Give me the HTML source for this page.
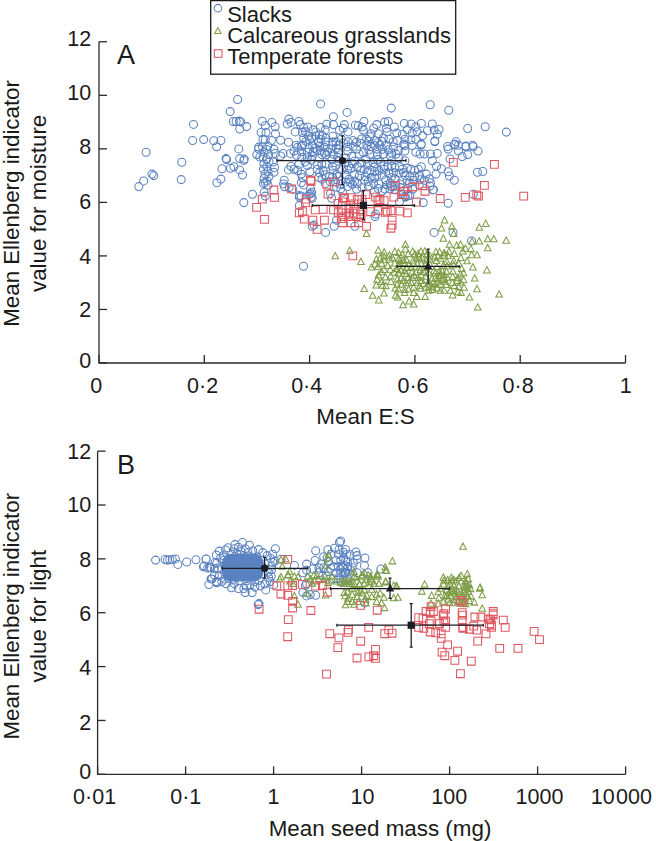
<!DOCTYPE html>
<html><head><meta charset="utf-8"><title>Ellenberg indicator plots</title>
<style>html,body{margin:0;padding:0;background:#fff;}svg{display:block;font-family:"Liberation Sans",sans-serif;}</style>
</head><body>
<svg width="656" height="841" viewBox="0 0 656 841" font-family="Liberation Sans, sans-serif"><path d="M233.6,99.5a4,4 0 1,0 8,0a4,4 0 1,0 -8,0M226.2,111.6a4,4 0 1,0 8,0a4,4 0 1,0 -8,0M189.5,124.4a4,4 0 1,0 8,0a4,4 0 1,0 -8,0M229.3,121.5a4,4 0 1,0 8,0a4,4 0 1,0 -8,0M232.1,121.5a4,4 0 1,0 8,0a4,4 0 1,0 -8,0M235.4,121.1a4,4 0 1,0 8,0a4,4 0 1,0 -8,0M236.7,122.0a4,4 0 1,0 8,0a4,4 0 1,0 -8,0M235.7,129.0a4,4 0 1,0 8,0a4,4 0 1,0 -8,0M242.7,126.6a4,4 0 1,0 8,0a4,4 0 1,0 -8,0M188.6,140.5a4,4 0 1,0 8,0a4,4 0 1,0 -8,0M199.7,139.6a4,4 0 1,0 8,0a4,4 0 1,0 -8,0M209.8,140.7a4,4 0 1,0 8,0a4,4 0 1,0 -8,0M216.9,140.5a4,4 0 1,0 8,0a4,4 0 1,0 -8,0M212.7,146.7a4,4 0 1,0 8,0a4,4 0 1,0 -8,0M234.8,148.9a4,4 0 1,0 8,0a4,4 0 1,0 -8,0M142.1,152.2a4,4 0 1,0 8,0a4,4 0 1,0 -8,0M177.8,162.3a4,4 0 1,0 8,0a4,4 0 1,0 -8,0M222.0,158.6a4,4 0 1,0 8,0a4,4 0 1,0 -8,0M222.6,159.5a4,4 0 1,0 8,0a4,4 0 1,0 -8,0M235.7,158.6a4,4 0 1,0 8,0a4,4 0 1,0 -8,0M240.3,159.1a4,4 0 1,0 8,0a4,4 0 1,0 -8,0M239.8,160.4a4,4 0 1,0 8,0a4,4 0 1,0 -8,0M218.0,168.7a4,4 0 1,0 8,0a4,4 0 1,0 -8,0M226.6,168.3a4,4 0 1,0 8,0a4,4 0 1,0 -8,0M229.9,166.8a4,4 0 1,0 8,0a4,4 0 1,0 -8,0M235.7,169.9a4,4 0 1,0 8,0a4,4 0 1,0 -8,0M238.5,175.0a4,4 0 1,0 8,0a4,4 0 1,0 -8,0M148.0,174.1a4,4 0 1,0 8,0a4,4 0 1,0 -8,0M149.8,175.6a4,4 0 1,0 8,0a4,4 0 1,0 -8,0M139.7,180.9a4,4 0 1,0 8,0a4,4 0 1,0 -8,0M134.8,186.6a4,4 0 1,0 8,0a4,4 0 1,0 -8,0M177.2,179.6a4,4 0 1,0 8,0a4,4 0 1,0 -8,0M216.9,179.1a4,4 0 1,0 8,0a4,4 0 1,0 -8,0M212.9,182.7a4,4 0 1,0 8,0a4,4 0 1,0 -8,0M316.6,103.9a4,4 0 1,0 8,0a4,4 0 1,0 -8,0M258.3,121.2a4,4 0 1,0 8,0a4,4 0 1,0 -8,0M261.3,125.8a4,4 0 1,0 8,0a4,4 0 1,0 -8,0M267.8,122.4a4,4 0 1,0 8,0a4,4 0 1,0 -8,0M271.1,126.8a4,4 0 1,0 8,0a4,4 0 1,0 -8,0M257.1,132.5a4,4 0 1,0 8,0a4,4 0 1,0 -8,0M262.0,132.5a4,4 0 1,0 8,0a4,4 0 1,0 -8,0M271.5,133.7a4,4 0 1,0 8,0a4,4 0 1,0 -8,0M258.9,139.2a4,4 0 1,0 8,0a4,4 0 1,0 -8,0M261.3,139.8a4,4 0 1,0 8,0a4,4 0 1,0 -8,0M267.4,140.4a4,4 0 1,0 8,0a4,4 0 1,0 -8,0M276.6,140.2a4,4 0 1,0 8,0a4,4 0 1,0 -8,0M284.5,142.3a4,4 0 1,0 8,0a4,4 0 1,0 -8,0M254.6,147.1a4,4 0 1,0 8,0a4,4 0 1,0 -8,0M263.8,145.9a4,4 0 1,0 8,0a4,4 0 1,0 -8,0M284.9,119.1a4,4 0 1,0 8,0a4,4 0 1,0 -8,0M283.3,124.0a4,4 0 1,0 8,0a4,4 0 1,0 -8,0M287.0,122.4a4,4 0 1,0 8,0a4,4 0 1,0 -8,0M294.9,121.5a4,4 0 1,0 8,0a4,4 0 1,0 -8,0M296.3,124.6a4,4 0 1,0 8,0a4,4 0 1,0 -8,0M291.2,131.9a4,4 0 1,0 8,0a4,4 0 1,0 -8,0M299.8,127.6a4,4 0 1,0 8,0a4,4 0 1,0 -8,0M298.5,132.5a4,4 0 1,0 8,0a4,4 0 1,0 -8,0M299.8,138.0a4,4 0 1,0 8,0a4,4 0 1,0 -8,0M292.4,145.3a4,4 0 1,0 8,0a4,4 0 1,0 -8,0M297.3,146.3a4,4 0 1,0 8,0a4,4 0 1,0 -8,0M248.5,194.3a4,4 0 1,0 8,0a4,4 0 1,0 -8,0M258.5,147.0a4,4 0 1,0 8,0a4,4 0 1,0 -8,0M263.0,149.5a4,4 0 1,0 8,0a4,4 0 1,0 -8,0M260.0,152.0a4,4 0 1,0 8,0a4,4 0 1,0 -8,0M264.5,154.5a4,4 0 1,0 8,0a4,4 0 1,0 -8,0M259.0,157.0a4,4 0 1,0 8,0a4,4 0 1,0 -8,0M262.5,159.5a4,4 0 1,0 8,0a4,4 0 1,0 -8,0M265.0,162.0a4,4 0 1,0 8,0a4,4 0 1,0 -8,0M260.0,164.0a4,4 0 1,0 8,0a4,4 0 1,0 -8,0M263.0,166.5a4,4 0 1,0 8,0a4,4 0 1,0 -8,0M259.5,169.0a4,4 0 1,0 8,0a4,4 0 1,0 -8,0M264.0,171.5a4,4 0 1,0 8,0a4,4 0 1,0 -8,0M261.0,174.0a4,4 0 1,0 8,0a4,4 0 1,0 -8,0M265.0,176.5a4,4 0 1,0 8,0a4,4 0 1,0 -8,0M260.0,178.5a4,4 0 1,0 8,0a4,4 0 1,0 -8,0M263.0,181.0a4,4 0 1,0 8,0a4,4 0 1,0 -8,0M259.5,183.5a4,4 0 1,0 8,0a4,4 0 1,0 -8,0M264.0,185.0a4,4 0 1,0 8,0a4,4 0 1,0 -8,0M254.6,149.1a4,4 0 1,0 8,0a4,4 0 1,0 -8,0M252.8,154.6a4,4 0 1,0 8,0a4,4 0 1,0 -8,0M255.9,157.0a4,4 0 1,0 8,0a4,4 0 1,0 -8,0M269.9,149.1a4,4 0 1,0 8,0a4,4 0 1,0 -8,0M271.1,153.4a4,4 0 1,0 8,0a4,4 0 1,0 -8,0M269.3,162.0a4,4 0 1,0 8,0a4,4 0 1,0 -8,0M270.5,167.4a4,4 0 1,0 8,0a4,4 0 1,0 -8,0M269.9,172.3a4,4 0 1,0 8,0a4,4 0 1,0 -8,0M276.6,155.9a4,4 0 1,0 8,0a4,4 0 1,0 -8,0M279.0,153.4a4,4 0 1,0 8,0a4,4 0 1,0 -8,0M260.1,192.4a4,4 0 1,0 8,0a4,4 0 1,0 -8,0M261.3,196.1a4,4 0 1,0 8,0a4,4 0 1,0 -8,0M280.2,180.2a4,4 0 1,0 8,0a4,4 0 1,0 -8,0M279.6,183.9a4,4 0 1,0 8,0a4,4 0 1,0 -8,0M285.1,187.6a4,4 0 1,0 8,0a4,4 0 1,0 -8,0M288.8,189.4a4,4 0 1,0 8,0a4,4 0 1,0 -8,0M287.0,166.2a4,4 0 1,0 8,0a4,4 0 1,0 -8,0M284.5,169.9a4,4 0 1,0 8,0a4,4 0 1,0 -8,0M290.0,169.3a4,4 0 1,0 8,0a4,4 0 1,0 -8,0M293.7,170.5a4,4 0 1,0 8,0a4,4 0 1,0 -8,0M286.3,153.4a4,4 0 1,0 8,0a4,4 0 1,0 -8,0M290.0,151.0a4,4 0 1,0 8,0a4,4 0 1,0 -8,0M293.7,147.3a4,4 0 1,0 8,0a4,4 0 1,0 -8,0M297.3,151.6a4,4 0 1,0 8,0a4,4 0 1,0 -8,0M292.4,155.2a4,4 0 1,0 8,0a4,4 0 1,0 -8,0M297.3,174.1a4,4 0 1,0 8,0a4,4 0 1,0 -8,0M298.5,177.8a4,4 0 1,0 8,0a4,4 0 1,0 -8,0M297.3,182.7a4,4 0 1,0 8,0a4,4 0 1,0 -8,0M305.9,171.7a4,4 0 1,0 8,0a4,4 0 1,0 -8,0M306.5,188.8a4,4 0 1,0 8,0a4,4 0 1,0 -8,0M306.5,193.7a4,4 0 1,0 8,0a4,4 0 1,0 -8,0M307.1,197.3a4,4 0 1,0 8,0a4,4 0 1,0 -8,0M313.2,169.3a4,4 0 1,0 8,0a4,4 0 1,0 -8,0M315.6,172.9a4,4 0 1,0 8,0a4,4 0 1,0 -8,0M318.0,179.0a4,4 0 1,0 8,0a4,4 0 1,0 -8,0M313.2,164.4a4,4 0 1,0 8,0a4,4 0 1,0 -8,0M303.4,165.6a4,4 0 1,0 8,0a4,4 0 1,0 -8,0M308.3,155.9a4,4 0 1,0 8,0a4,4 0 1,0 -8,0M303.4,152.2a4,4 0 1,0 8,0a4,4 0 1,0 -8,0M313.2,151.0a4,4 0 1,0 8,0a4,4 0 1,0 -8,0M308.3,144.9a4,4 0 1,0 8,0a4,4 0 1,0 -8,0M315.6,146.1a4,4 0 1,0 8,0a4,4 0 1,0 -8,0M298.5,144.9a4,4 0 1,0 8,0a4,4 0 1,0 -8,0M294.9,164.4a4,4 0 1,0 8,0a4,4 0 1,0 -8,0M301.0,162.0a4,4 0 1,0 8,0a4,4 0 1,0 -8,0M318.0,154.6a4,4 0 1,0 8,0a4,4 0 1,0 -8,0M295.5,195.5a4,4 0 1,0 8,0a4,4 0 1,0 -8,0M343.1,112.4a4,4 0 1,0 8,0a4,4 0 1,0 -8,0M387.3,108.1a4,4 0 1,0 8,0a4,4 0 1,0 -8,0M329.4,116.7a4,4 0 1,0 8,0a4,4 0 1,0 -8,0M322.7,124.3a4,4 0 1,0 8,0a4,4 0 1,0 -8,0M329.4,124.6a4,4 0 1,0 8,0a4,4 0 1,0 -8,0M335.5,130.1a4,4 0 1,0 8,0a4,4 0 1,0 -8,0M340.4,124.6a4,4 0 1,0 8,0a4,4 0 1,0 -8,0M339.2,128.2a4,4 0 1,0 8,0a4,4 0 1,0 -8,0M344.0,131.9a4,4 0 1,0 8,0a4,4 0 1,0 -8,0M318.4,135.6a4,4 0 1,0 8,0a4,4 0 1,0 -8,0M321.5,141.7a4,4 0 1,0 8,0a4,4 0 1,0 -8,0M328.8,136.2a4,4 0 1,0 8,0a4,4 0 1,0 -8,0M331.9,141.7a4,4 0 1,0 8,0a4,4 0 1,0 -8,0M334.9,145.3a4,4 0 1,0 8,0a4,4 0 1,0 -8,0M344.0,141.7a4,4 0 1,0 8,0a4,4 0 1,0 -8,0M348.9,140.4a4,4 0 1,0 8,0a4,4 0 1,0 -8,0M352.6,142.3a4,4 0 1,0 8,0a4,4 0 1,0 -8,0M351.4,125.2a4,4 0 1,0 8,0a4,4 0 1,0 -8,0M354.4,125.8a4,4 0 1,0 8,0a4,4 0 1,0 -8,0M358.1,127.0a4,4 0 1,0 8,0a4,4 0 1,0 -8,0M359.9,121.5a4,4 0 1,0 8,0a4,4 0 1,0 -8,0M359.3,130.1a4,4 0 1,0 8,0a4,4 0 1,0 -8,0M363.0,145.3a4,4 0 1,0 8,0a4,4 0 1,0 -8,0M366.0,136.8a4,4 0 1,0 8,0a4,4 0 1,0 -8,0M367.2,133.7a4,4 0 1,0 8,0a4,4 0 1,0 -8,0M369.7,128.2a4,4 0 1,0 8,0a4,4 0 1,0 -8,0M372.7,124.6a4,4 0 1,0 8,0a4,4 0 1,0 -8,0M374.5,133.7a4,4 0 1,0 8,0a4,4 0 1,0 -8,0M370.9,140.4a4,4 0 1,0 8,0a4,4 0 1,0 -8,0M380.6,122.1a4,4 0 1,0 8,0a4,4 0 1,0 -8,0M384.3,121.5a4,4 0 1,0 8,0a4,4 0 1,0 -8,0M382.5,128.2a4,4 0 1,0 8,0a4,4 0 1,0 -8,0M383.1,131.9a4,4 0 1,0 8,0a4,4 0 1,0 -8,0M390.4,127.0a4,4 0 1,0 8,0a4,4 0 1,0 -8,0M392.8,133.1a4,4 0 1,0 8,0a4,4 0 1,0 -8,0M379.4,138.0a4,4 0 1,0 8,0a4,4 0 1,0 -8,0M384.9,139.2a4,4 0 1,0 8,0a4,4 0 1,0 -8,0M389.2,141.7a4,4 0 1,0 8,0a4,4 0 1,0 -8,0M393.4,140.4a4,4 0 1,0 8,0a4,4 0 1,0 -8,0M375.8,145.3a4,4 0 1,0 8,0a4,4 0 1,0 -8,0M381.9,145.3a4,4 0 1,0 8,0a4,4 0 1,0 -8,0M426.2,104.8a4,4 0 1,0 8,0a4,4 0 1,0 -8,0M444.8,110.3a4,4 0 1,0 8,0a4,4 0 1,0 -8,0M463.7,128.5a4,4 0 1,0 8,0a4,4 0 1,0 -8,0M400.3,123.4a4,4 0 1,0 8,0a4,4 0 1,0 -8,0M407.0,124.0a4,4 0 1,0 8,0a4,4 0 1,0 -8,0M417.3,123.4a4,4 0 1,0 8,0a4,4 0 1,0 -8,0M428.3,124.0a4,4 0 1,0 8,0a4,4 0 1,0 -8,0M435.0,129.5a4,4 0 1,0 8,0a4,4 0 1,0 -8,0M430.1,130.1a4,4 0 1,0 8,0a4,4 0 1,0 -8,0M433.2,134.3a4,4 0 1,0 8,0a4,4 0 1,0 -8,0M423.4,130.7a4,4 0 1,0 8,0a4,4 0 1,0 -8,0M418.6,135.6a4,4 0 1,0 8,0a4,4 0 1,0 -8,0M411.9,127.0a4,4 0 1,0 8,0a4,4 0 1,0 -8,0M413.1,131.9a4,4 0 1,0 8,0a4,4 0 1,0 -8,0M408.2,133.1a4,4 0 1,0 8,0a4,4 0 1,0 -8,0M403.3,129.5a4,4 0 1,0 8,0a4,4 0 1,0 -8,0M398.4,134.3a4,4 0 1,0 8,0a4,4 0 1,0 -8,0M400.9,139.2a4,4 0 1,0 8,0a4,4 0 1,0 -8,0M407.0,139.8a4,4 0 1,0 8,0a4,4 0 1,0 -8,0M411.9,139.2a4,4 0 1,0 8,0a4,4 0 1,0 -8,0M417.3,144.1a4,4 0 1,0 8,0a4,4 0 1,0 -8,0M430.8,141.0a4,4 0 1,0 8,0a4,4 0 1,0 -8,0M399.7,144.1a4,4 0 1,0 8,0a4,4 0 1,0 -8,0M452.1,141.7a4,4 0 1,0 8,0a4,4 0 1,0 -8,0M450.3,144.7a4,4 0 1,0 8,0a4,4 0 1,0 -8,0M443.6,146.5a4,4 0 1,0 8,0a4,4 0 1,0 -8,0M461.9,145.9a4,4 0 1,0 8,0a4,4 0 1,0 -8,0M468.6,145.3a4,4 0 1,0 8,0a4,4 0 1,0 -8,0M454.5,145.3a4,4 0 1,0 8,0a4,4 0 1,0 -8,0M430.8,141.8a4,4 0 1,0 8,0a4,4 0 1,0 -8,0M400.9,145.5a4,4 0 1,0 8,0a4,4 0 1,0 -8,0M400.9,151.0a4,4 0 1,0 8,0a4,4 0 1,0 -8,0M408.2,145.5a4,4 0 1,0 8,0a4,4 0 1,0 -8,0M411.9,152.2a4,4 0 1,0 8,0a4,4 0 1,0 -8,0M417.3,144.9a4,4 0 1,0 8,0a4,4 0 1,0 -8,0M416.1,154.0a4,4 0 1,0 8,0a4,4 0 1,0 -8,0M420.4,154.0a4,4 0 1,0 8,0a4,4 0 1,0 -8,0M426.5,154.0a4,4 0 1,0 8,0a4,4 0 1,0 -8,0M433.2,153.4a4,4 0 1,0 8,0a4,4 0 1,0 -8,0M428.3,160.7a4,4 0 1,0 8,0a4,4 0 1,0 -8,0M432.6,166.2a4,4 0 1,0 8,0a4,4 0 1,0 -8,0M437.5,168.7a4,4 0 1,0 8,0a4,4 0 1,0 -8,0M432.0,174.1a4,4 0 1,0 8,0a4,4 0 1,0 -8,0M444.2,149.1a4,4 0 1,0 8,0a4,4 0 1,0 -8,0M446.0,158.9a4,4 0 1,0 8,0a4,4 0 1,0 -8,0M450.9,144.3a4,4 0 1,0 8,0a4,4 0 1,0 -8,0M454.5,151.0a4,4 0 1,0 8,0a4,4 0 1,0 -8,0M458.2,156.5a4,4 0 1,0 8,0a4,4 0 1,0 -8,0M461.9,146.7a4,4 0 1,0 8,0a4,4 0 1,0 -8,0M463.7,154.6a4,4 0 1,0 8,0a4,4 0 1,0 -8,0M469.2,146.7a4,4 0 1,0 8,0a4,4 0 1,0 -8,0M474.0,151.0a4,4 0 1,0 8,0a4,4 0 1,0 -8,0M444.2,171.7a4,4 0 1,0 8,0a4,4 0 1,0 -8,0M445.4,176.0a4,4 0 1,0 8,0a4,4 0 1,0 -8,0M450.3,180.2a4,4 0 1,0 8,0a4,4 0 1,0 -8,0M473.4,172.3a4,4 0 1,0 8,0a4,4 0 1,0 -8,0M469.2,194.3a4,4 0 1,0 8,0a4,4 0 1,0 -8,0M398.4,169.3a4,4 0 1,0 8,0a4,4 0 1,0 -8,0M403.3,168.0a4,4 0 1,0 8,0a4,4 0 1,0 -8,0M407.0,169.3a4,4 0 1,0 8,0a4,4 0 1,0 -8,0M410.6,170.5a4,4 0 1,0 8,0a4,4 0 1,0 -8,0M414.3,169.3a4,4 0 1,0 8,0a4,4 0 1,0 -8,0M417.3,166.8a4,4 0 1,0 8,0a4,4 0 1,0 -8,0M422.2,174.1a4,4 0 1,0 8,0a4,4 0 1,0 -8,0M425.3,179.0a4,4 0 1,0 8,0a4,4 0 1,0 -8,0M400.9,175.4a4,4 0 1,0 8,0a4,4 0 1,0 -8,0M405.8,176.6a4,4 0 1,0 8,0a4,4 0 1,0 -8,0M410.6,176.6a4,4 0 1,0 8,0a4,4 0 1,0 -8,0M415.5,175.4a4,4 0 1,0 8,0a4,4 0 1,0 -8,0M420.4,180.2a4,4 0 1,0 8,0a4,4 0 1,0 -8,0M426.5,182.7a4,4 0 1,0 8,0a4,4 0 1,0 -8,0M428.9,190.0a4,4 0 1,0 8,0a4,4 0 1,0 -8,0M398.4,180.2a4,4 0 1,0 8,0a4,4 0 1,0 -8,0M403.3,180.2a4,4 0 1,0 8,0a4,4 0 1,0 -8,0M409.4,180.2a4,4 0 1,0 8,0a4,4 0 1,0 -8,0M397.2,193.7a4,4 0 1,0 8,0a4,4 0 1,0 -8,0M400.9,196.1a4,4 0 1,0 8,0a4,4 0 1,0 -8,0M405.8,195.5a4,4 0 1,0 8,0a4,4 0 1,0 -8,0M400.9,160.7a4,4 0 1,0 8,0a4,4 0 1,0 -8,0M481.2,126.8a4,4 0 1,0 8,0a4,4 0 1,0 -8,0M502.3,132.1a4,4 0 1,0 8,0a4,4 0 1,0 -8,0M478.8,171.5a4,4 0 1,0 8,0a4,4 0 1,0 -8,0M299.7,184.9a4,4 0 1,0 8,0a4,4 0 1,0 -8,0M307.6,192.2a4,4 0 1,0 8,0a4,4 0 1,0 -8,0M305.1,194.6a4,4 0 1,0 8,0a4,4 0 1,0 -8,0M308.2,198.3a4,4 0 1,0 8,0a4,4 0 1,0 -8,0M297.2,195.9a4,4 0 1,0 8,0a4,4 0 1,0 -8,0M326.5,193.4a4,4 0 1,0 8,0a4,4 0 1,0 -8,0M332.6,187.3a4,4 0 1,0 8,0a4,4 0 1,0 -8,0M338.7,192.2a4,4 0 1,0 8,0a4,4 0 1,0 -8,0M327.7,198.3a4,4 0 1,0 8,0a4,4 0 1,0 -8,0M332.6,220.2a4,4 0 1,0 8,0a4,4 0 1,0 -8,0M330.1,226.3a4,4 0 1,0 8,0a4,4 0 1,0 -8,0M321.6,232.4a4,4 0 1,0 8,0a4,4 0 1,0 -8,0M310.0,225.1a4,4 0 1,0 8,0a4,4 0 1,0 -8,0M308.2,226.3a4,4 0 1,0 8,0a4,4 0 1,0 -8,0M348.4,184.3a4,4 0 1,0 8,0a4,4 0 1,0 -8,0M353.3,183.7a4,4 0 1,0 8,0a4,4 0 1,0 -8,0M364.3,186.1a4,4 0 1,0 8,0a4,4 0 1,0 -8,0M370.4,192.2a4,4 0 1,0 8,0a4,4 0 1,0 -8,0M371.6,214.1a4,4 0 1,0 8,0a4,4 0 1,0 -8,0M350.9,226.3a4,4 0 1,0 8,0a4,4 0 1,0 -8,0M371.0,216.6a4,4 0 1,0 8,0a4,4 0 1,0 -8,0M403.9,195.9a4,4 0 1,0 8,0a4,4 0 1,0 -8,0M401.5,197.1a4,4 0 1,0 8,0a4,4 0 1,0 -8,0M419.2,202.6a4,4 0 1,0 8,0a4,4 0 1,0 -8,0M444.2,203.2a4,4 0 1,0 8,0a4,4 0 1,0 -8,0M429.5,189.8a4,4 0 1,0 8,0a4,4 0 1,0 -8,0M425.9,186.1a4,4 0 1,0 8,0a4,4 0 1,0 -8,0M380.8,189.1a4,4 0 1,0 8,0a4,4 0 1,0 -8,0M378.3,191.0a4,4 0 1,0 8,0a4,4 0 1,0 -8,0M374.7,183.7a4,4 0 1,0 8,0a4,4 0 1,0 -8,0M430.1,232.4a4,4 0 1,0 8,0a4,4 0 1,0 -8,0M449.0,232.4a4,4 0 1,0 8,0a4,4 0 1,0 -8,0M395.4,202.0a4,4 0 1,0 8,0a4,4 0 1,0 -8,0M239.8,202.6a4,4 0 1,0 8,0a4,4 0 1,0 -8,0M261.1,182.4a4,4 0 1,0 8,0a4,4 0 1,0 -8,0M280.6,186.7a4,4 0 1,0 8,0a4,4 0 1,0 -8,0M295.3,197.1a4,4 0 1,0 8,0a4,4 0 1,0 -8,0M295.3,205.6a4,4 0 1,0 8,0a4,4 0 1,0 -8,0M467.6,240.9a4,4 0 1,0 8,0a4,4 0 1,0 -8,0M299.5,266.2a4,4 0 1,0 8,0a4,4 0 1,0 -8,0M347.2,168.4a4,4 0 1,0 8,0a4,4 0 1,0 -8,0M357.6,163.0a4,4 0 1,0 8,0a4,4 0 1,0 -8,0M387.5,160.9a4,4 0 1,0 8,0a4,4 0 1,0 -8,0M370.6,171.5a4,4 0 1,0 8,0a4,4 0 1,0 -8,0M332.5,174.7a4,4 0 1,0 8,0a4,4 0 1,0 -8,0M394.8,158.1a4,4 0 1,0 8,0a4,4 0 1,0 -8,0M389.4,172.8a4,4 0 1,0 8,0a4,4 0 1,0 -8,0M365.9,154.3a4,4 0 1,0 8,0a4,4 0 1,0 -8,0M322.2,164.0a4,4 0 1,0 8,0a4,4 0 1,0 -8,0M379.8,166.0a4,4 0 1,0 8,0a4,4 0 1,0 -8,0M336.9,180.7a4,4 0 1,0 8,0a4,4 0 1,0 -8,0M329.3,154.4a4,4 0 1,0 8,0a4,4 0 1,0 -8,0M343.8,151.3a4,4 0 1,0 8,0a4,4 0 1,0 -8,0M378.2,174.9a4,4 0 1,0 8,0a4,4 0 1,0 -8,0M373.3,154.5a4,4 0 1,0 8,0a4,4 0 1,0 -8,0M337.9,169.8a4,4 0 1,0 8,0a4,4 0 1,0 -8,0M328.3,166.2a4,4 0 1,0 8,0a4,4 0 1,0 -8,0M356.6,170.4a4,4 0 1,0 8,0a4,4 0 1,0 -8,0M391.1,178.6a4,4 0 1,0 8,0a4,4 0 1,0 -8,0M350.3,174.7a4,4 0 1,0 8,0a4,4 0 1,0 -8,0M370.7,178.3a4,4 0 1,0 8,0a4,4 0 1,0 -8,0M355.1,154.0a4,4 0 1,0 8,0a4,4 0 1,0 -8,0M347.8,156.3a4,4 0 1,0 8,0a4,4 0 1,0 -8,0M341.2,175.1a4,4 0 1,0 8,0a4,4 0 1,0 -8,0M359.5,152.8a4,4 0 1,0 8,0a4,4 0 1,0 -8,0M379.6,154.1a4,4 0 1,0 8,0a4,4 0 1,0 -8,0M389.5,147.0a4,4 0 1,0 8,0a4,4 0 1,0 -8,0M334.6,161.2a4,4 0 1,0 8,0a4,4 0 1,0 -8,0M386.1,155.7a4,4 0 1,0 8,0a4,4 0 1,0 -8,0M365.9,170.2a4,4 0 1,0 8,0a4,4 0 1,0 -8,0M381.9,179.7a4,4 0 1,0 8,0a4,4 0 1,0 -8,0M341.7,157.9a4,4 0 1,0 8,0a4,4 0 1,0 -8,0M369.1,162.4a4,4 0 1,0 8,0a4,4 0 1,0 -8,0M325.7,176.4a4,4 0 1,0 8,0a4,4 0 1,0 -8,0M350.6,160.9a4,4 0 1,0 8,0a4,4 0 1,0 -8,0M367.1,146.5a4,4 0 1,0 8,0a4,4 0 1,0 -8,0M341.3,162.6a4,4 0 1,0 8,0a4,4 0 1,0 -8,0M349.1,146.4a4,4 0 1,0 8,0a4,4 0 1,0 -8,0M364.2,181.4a4,4 0 1,0 8,0a4,4 0 1,0 -8,0M345.1,179.2a4,4 0 1,0 8,0a4,4 0 1,0 -8,0M392.0,154.1a4,4 0 1,0 8,0a4,4 0 1,0 -8,0M357.5,139.0a4,4 0 1,0 8,0a4,4 0 1,0 -8,0M352.6,149.1a4,4 0 1,0 8,0a4,4 0 1,0 -8,0M353.3,166.6a4,4 0 1,0 8,0a4,4 0 1,0 -8,0M337.4,139.0a4,4 0 1,0 8,0a4,4 0 1,0 -8,0M373.5,159.6a4,4 0 1,0 8,0a4,4 0 1,0 -8,0M390.9,167.5a4,4 0 1,0 8,0a4,4 0 1,0 -8,0M370.0,167.1a4,4 0 1,0 8,0a4,4 0 1,0 -8,0M394.3,150.5a4,4 0 1,0 8,0a4,4 0 1,0 -8,0M323.4,151.7a4,4 0 1,0 8,0a4,4 0 1,0 -8,0M372.9,149.1a4,4 0 1,0 8,0a4,4 0 1,0 -8,0M334.3,152.6a4,4 0 1,0 8,0a4,4 0 1,0 -8,0M333.6,157.1a4,4 0 1,0 8,0a4,4 0 1,0 -8,0M378.5,149.2a4,4 0 1,0 8,0a4,4 0 1,0 -8,0M343.5,146.9a4,4 0 1,0 8,0a4,4 0 1,0 -8,0M321.0,174.8a4,4 0 1,0 8,0a4,4 0 1,0 -8,0M344.6,165.9a4,4 0 1,0 8,0a4,4 0 1,0 -8,0M370.3,145.4a4,4 0 1,0 8,0a4,4 0 1,0 -8,0M319.2,170.6a4,4 0 1,0 8,0a4,4 0 1,0 -8,0M361.2,176.7a4,4 0 1,0 8,0a4,4 0 1,0 -8,0M357.2,143.4a4,4 0 1,0 8,0a4,4 0 1,0 -8,0M329.2,170.2a4,4 0 1,0 8,0a4,4 0 1,0 -8,0M317.8,164.3a4,4 0 1,0 8,0a4,4 0 1,0 -8,0M376.6,162.1a4,4 0 1,0 8,0a4,4 0 1,0 -8,0M373.9,142.4a4,4 0 1,0 8,0a4,4 0 1,0 -8,0M387.7,152.9a4,4 0 1,0 8,0a4,4 0 1,0 -8,0M363.6,164.3a4,4 0 1,0 8,0a4,4 0 1,0 -8,0M322.6,154.6a4,4 0 1,0 8,0a4,4 0 1,0 -8,0M328.0,159.8a4,4 0 1,0 8,0a4,4 0 1,0 -8,0M372.8,174.9a4,4 0 1,0 8,0a4,4 0 1,0 -8,0M379.9,169.2a4,4 0 1,0 8,0a4,4 0 1,0 -8,0M326.8,148.9a4,4 0 1,0 8,0a4,4 0 1,0 -8,0M364.9,150.0a4,4 0 1,0 8,0a4,4 0 1,0 -8,0M361.8,159.1a4,4 0 1,0 8,0a4,4 0 1,0 -8,0M339.6,142.9a4,4 0 1,0 8,0a4,4 0 1,0 -8,0M335.0,176.4a4,4 0 1,0 8,0a4,4 0 1,0 -8,0M386.2,183.0a4,4 0 1,0 8,0a4,4 0 1,0 -8,0M321.0,147.6a4,4 0 1,0 8,0a4,4 0 1,0 -8,0M355.4,175.6a4,4 0 1,0 8,0a4,4 0 1,0 -8,0M348.3,163.7a4,4 0 1,0 8,0a4,4 0 1,0 -8,0M384.7,173.4a4,4 0 1,0 8,0a4,4 0 1,0 -8,0M328.9,145.3a4,4 0 1,0 8,0a4,4 0 1,0 -8,0M364.7,141.2a4,4 0 1,0 8,0a4,4 0 1,0 -8,0M314.3,142.1a4,4 0 1,0 8,0a4,4 0 1,0 -8,0M331.6,181.9a4,4 0 1,0 8,0a4,4 0 1,0 -8,0M343.5,169.4a4,4 0 1,0 8,0a4,4 0 1,0 -8,0M331.9,165.9a4,4 0 1,0 8,0a4,4 0 1,0 -8,0M377.9,141.4a4,4 0 1,0 8,0a4,4 0 1,0 -8,0M321.3,183.4a4,4 0 1,0 8,0a4,4 0 1,0 -8,0M384.3,149.8a4,4 0 1,0 8,0a4,4 0 1,0 -8,0M328.7,142.1a4,4 0 1,0 8,0a4,4 0 1,0 -8,0M332.2,148.2a4,4 0 1,0 8,0a4,4 0 1,0 -8,0M320.3,153.2a4,4 0 1,0 8,0a4,4 0 1,0 -8,0M314.6,177.5a4,4 0 1,0 8,0a4,4 0 1,0 -8,0M362.6,138.9a4,4 0 1,0 8,0a4,4 0 1,0 -8,0M309.1,129.9a4,4 0 1,0 8,0a4,4 0 1,0 -8,0M311.6,135.9a4,4 0 1,0 8,0a4,4 0 1,0 -8,0M301.5,131.9a4,4 0 1,0 8,0a4,4 0 1,0 -8,0M305.5,140.0a4,4 0 1,0 8,0a4,4 0 1,0 -8,0M303.7,126.9a4,4 0 1,0 8,0a4,4 0 1,0 -8,0M316.3,127.5a4,4 0 1,0 8,0a4,4 0 1,0 -8,0M304.5,136.0a4,4 0 1,0 8,0a4,4 0 1,0 -8,0M311.9,132.0a4,4 0 1,0 8,0a4,4 0 1,0 -8,0M301.9,141.4a4,4 0 1,0 8,0a4,4 0 1,0 -8,0M317.0,139.2a4,4 0 1,0 8,0a4,4 0 1,0 -8,0M315.4,134.9a4,4 0 1,0 8,0a4,4 0 1,0 -8,0M307.6,138.4a4,4 0 1,0 8,0a4,4 0 1,0 -8,0M408.6,189.3a4,4 0 1,0 8,0a4,4 0 1,0 -8,0M415.3,185.1a4,4 0 1,0 8,0a4,4 0 1,0 -8,0M374.1,188.5a4,4 0 1,0 8,0a4,4 0 1,0 -8,0M395.1,173.0a4,4 0 1,0 8,0a4,4 0 1,0 -8,0M382.9,185.0a4,4 0 1,0 8,0a4,4 0 1,0 -8,0M395.3,166.7a4,4 0 1,0 8,0a4,4 0 1,0 -8,0M403.6,188.7a4,4 0 1,0 8,0a4,4 0 1,0 -8,0M396.3,187.4a4,4 0 1,0 8,0a4,4 0 1,0 -8,0M369.6,183.6a4,4 0 1,0 8,0a4,4 0 1,0 -8,0M405.3,183.3a4,4 0 1,0 8,0a4,4 0 1,0 -8,0M336.8,188.8a4,4 0 1,0 8,0a4,4 0 1,0 -8,0M326.2,181.9a4,4 0 1,0 8,0a4,4 0 1,0 -8,0M390.7,186.3a4,4 0 1,0 8,0a4,4 0 1,0 -8,0M384.1,166.7a4,4 0 1,0 8,0a4,4 0 1,0 -8,0M375.1,170.6a4,4 0 1,0 8,0a4,4 0 1,0 -8,0M358.1,187.7a4,4 0 1,0 8,0a4,4 0 1,0 -8,0M343.6,186.5a4,4 0 1,0 8,0a4,4 0 1,0 -8,0M395.9,183.9a4,4 0 1,0 8,0a4,4 0 1,0 -8,0M399.4,172.5a4,4 0 1,0 8,0a4,4 0 1,0 -8,0M341.6,181.9a4,4 0 1,0 8,0a4,4 0 1,0 -8,0M360.9,180.4a4,4 0 1,0 8,0a4,4 0 1,0 -8,0M352.6,189.2a4,4 0 1,0 8,0a4,4 0 1,0 -8,0M387.8,166.1a4,4 0 1,0 8,0a4,4 0 1,0 -8,0M387.3,177.4a4,4 0 1,0 8,0a4,4 0 1,0 -8,0M363.0,172.3a4,4 0 1,0 8,0a4,4 0 1,0 -8,0M336.2,184.1a4,4 0 1,0 8,0a4,4 0 1,0 -8,0M385.9,188.8a4,4 0 1,0 8,0a4,4 0 1,0 -8,0M328.6,177.1a4,4 0 1,0 8,0a4,4 0 1,0 -8,0M367.2,177.2a4,4 0 1,0 8,0a4,4 0 1,0 -8,0M360.3,169.4a4,4 0 1,0 8,0a4,4 0 1,0 -8,0M415.9,179.7a4,4 0 1,0 8,0a4,4 0 1,0 -8,0M346.4,182.2a4,4 0 1,0 8,0a4,4 0 1,0 -8,0M390.8,189.8a4,4 0 1,0 8,0a4,4 0 1,0 -8,0M350.7,181.1a4,4 0 1,0 8,0a4,4 0 1,0 -8,0M387.3,186.5a4,4 0 1,0 8,0a4,4 0 1,0 -8,0M303.3,157.7a4,4 0 1,0 8,0a4,4 0 1,0 -8,0M309.3,151.6a4,4 0 1,0 8,0a4,4 0 1,0 -8,0M297.8,157.5a4,4 0 1,0 8,0a4,4 0 1,0 -8,0M321.2,129.9a4,4 0 1,0 8,0a4,4 0 1,0 -8,0M321.9,137.9a4,4 0 1,0 8,0a4,4 0 1,0 -8,0M315.5,158.4a4,4 0 1,0 8,0a4,4 0 1,0 -8,0M307.5,160.1a4,4 0 1,0 8,0a4,4 0 1,0 -8,0M311.1,148.0a4,4 0 1,0 8,0a4,4 0 1,0 -8,0M316.4,150.6a4,4 0 1,0 8,0a4,4 0 1,0 -8,0M305.3,148.7a4,4 0 1,0 8,0a4,4 0 1,0 -8,0" fill="none" stroke="#5a82c0" stroke-width="1.05"/>
<path d="M270.0,186.1h7.8v7.8h-7.8zM270.6,193.4h7.8v7.8h-7.8zM287.7,184.9h7.8v7.8h-7.8zM306.6,176.3h7.8v7.8h-7.8zM258.4,195.2h7.8v7.8h-7.8zM302.3,195.2h7.8v7.8h-7.8zM449.4,158.4h7.8v7.8h-7.8zM408.9,183.1h7.8v7.8h-7.8zM418.7,181.8h7.8v7.8h-7.8zM421.1,187.3h7.8v7.8h-7.8zM399.8,187.3h7.8v7.8h-7.8zM461.3,193.4h7.8v7.8h-7.8zM436.3,194.6h7.8v7.8h-7.8zM472.9,191.0h7.8v7.8h-7.8zM490.5,160.5h7.8v7.8h-7.8zM480.5,181.5h7.8v7.8h-7.8zM474.6,192.2h7.8v7.8h-7.8zM519.8,192.2h7.8v7.8h-7.8zM307.1,177.3h7.8v7.8h-7.8zM324.1,190.1h7.8v7.8h-7.8zM301.6,198.7h7.8v7.8h-7.8zM298.5,207.8h7.8v7.8h-7.8zM311.3,206.0h7.8v7.8h-7.8zM319.3,205.4h7.8v7.8h-7.8zM329.6,206.0h7.8v7.8h-7.8zM300.4,215.1h7.8v7.8h-7.8zM308.9,216.3h7.8v7.8h-7.8zM320.5,216.3h7.8v7.8h-7.8zM313.2,225.5h7.8v7.8h-7.8zM340.6,193.8h7.8v7.8h-7.8zM339.4,194.4h7.8v7.8h-7.8zM347.3,193.8h7.8v7.8h-7.8zM353.4,195.6h7.8v7.8h-7.8zM338.8,205.4h7.8v7.8h-7.8zM344.9,204.1h7.8v7.8h-7.8zM351.0,205.4h7.8v7.8h-7.8zM338.8,212.7h7.8v7.8h-7.8zM344.9,212.7h7.8v7.8h-7.8zM352.2,212.7h7.8v7.8h-7.8zM338.8,218.8h7.8v7.8h-7.8zM347.3,218.8h7.8v7.8h-7.8zM354.6,218.8h7.8v7.8h-7.8zM342.4,209.0h7.8v7.8h-7.8zM362.0,190.7h7.8v7.8h-7.8zM366.8,207.8h7.8v7.8h-7.8zM362.6,222.4h7.8v7.8h-7.8zM374.1,196.8h7.8v7.8h-7.8zM374.1,206.6h7.8v7.8h-7.8zM371.7,193.2h7.8v7.8h-7.8zM330.2,177.9h7.8v7.8h-7.8zM322.9,180.4h7.8v7.8h-7.8zM391.8,181.6h7.8v7.8h-7.8zM399.8,187.7h7.8v7.8h-7.8zM408.9,182.8h7.8v7.8h-7.8zM390.0,193.2h7.8v7.8h-7.8zM376.0,195.6h7.8v7.8h-7.8zM380.2,196.8h7.8v7.8h-7.8zM412.6,198.1h7.8v7.8h-7.8zM383.3,207.2h7.8v7.8h-7.8zM387.0,206.6h7.8v7.8h-7.8zM396.1,207.2h7.8v7.8h-7.8zM403.4,209.0h7.8v7.8h-7.8zM388.2,216.3h7.8v7.8h-7.8zM388.2,221.2h7.8v7.8h-7.8zM387.0,224.3h7.8v7.8h-7.8zM381.5,208.4h7.8v7.8h-7.8zM399.1,190.7h7.8v7.8h-7.8zM252.7,203.5h7.8v7.8h-7.8zM260.6,215.4h7.8v7.8h-7.8zM295.4,209.0h7.8v7.8h-7.8zM348.9,252.0h7.8v7.8h-7.8zM357.2,207.1h7.8v7.8h-7.8zM349.8,199.9h7.8v7.8h-7.8zM358.1,195.5h7.8v7.8h-7.8zM354.7,200.0h7.8v7.8h-7.8zM349.2,209.3h7.8v7.8h-7.8zM345.7,209.3h7.8v7.8h-7.8zM357.2,213.4h7.8v7.8h-7.8zM334.2,199.4h7.8v7.8h-7.8zM356.7,210.3h7.8v7.8h-7.8zM337.4,214.6h7.8v7.8h-7.8zM338.5,197.9h7.8v7.8h-7.8zM334.4,208.8h7.8v7.8h-7.8z" fill="none" stroke="#de5862" stroke-width="1.05"/>
<path d="M366.5,230.2l3.3,6.3h-6.6zM444.5,216.7l3.3,6.3h-6.6zM441.5,224.7l3.3,6.3h-6.6zM451.8,222.8l3.3,6.3h-6.6zM453.7,230.2l3.3,6.3h-6.6zM443.3,235.0l3.3,6.3h-6.6zM335.2,252.4l3.3,6.3h-6.6zM349.7,247.1l3.3,6.3h-6.6zM360.9,258.2l3.3,6.3h-6.6zM371.5,263.8l3.3,6.3h-6.6zM374.9,260.8l3.3,6.3h-6.6zM380.2,254.7l3.3,6.3h-6.6zM377.9,263.1l3.3,6.3h-6.6zM381.7,260.0l3.3,6.3h-6.6zM384.0,266.1l3.3,6.3h-6.6zM387.8,262.3l3.3,6.3h-6.6zM389.4,251.7l3.3,6.3h-6.6zM392.4,253.9l3.3,6.3h-6.6zM385.5,273.8l3.3,6.3h-6.6zM381.7,278.3l3.3,6.3h-6.6zM390.9,278.3l3.3,6.3h-6.6zM364.2,285.2l3.3,6.3h-6.6zM372.6,292.0l3.3,6.3h-6.6zM378.7,296.6l3.3,6.3h-6.6zM384.0,289.8l3.3,6.3h-6.6zM395.5,292.0l3.3,6.3h-6.6zM397.7,293.6l3.3,6.3h-6.6zM405.4,241.0l3.3,6.3h-6.6zM405.4,245.6l3.3,6.3h-6.6zM402.3,250.9l3.3,6.3h-6.6zM479.3,223.9l3.3,6.3h-6.6zM485.7,220.1l3.3,6.3h-6.6zM449.5,241.0l3.3,6.3h-6.6zM456.7,241.9l3.3,6.3h-6.6zM460.7,241.0l3.3,6.3h-6.6zM465.5,245.0l3.3,6.3h-6.6zM470.9,245.3l3.3,6.3h-6.6zM479.3,237.7l3.3,6.3h-6.6zM487.7,235.4l3.3,6.3h-6.6zM493.8,235.4l3.3,6.3h-6.6zM487.7,244.5l3.3,6.3h-6.6zM471.6,251.4l3.3,6.3h-6.6zM477.0,251.4l3.3,6.3h-6.6zM467.1,257.5l3.3,6.3h-6.6zM472.9,263.6l3.3,6.3h-6.6zM486.9,266.6l3.3,6.3h-6.6zM461.7,265.1l3.3,6.3h-6.6zM474.7,274.8l3.3,6.3h-6.6zM452.6,273.3l3.3,6.3h-6.6zM457.2,277.1l3.3,6.3h-6.6zM444.2,274.8l3.3,6.3h-6.6zM458.7,283.2l3.3,6.3h-6.6zM464.0,283.9l3.3,6.3h-6.6zM450.3,287.0l3.3,6.3h-6.6zM444.2,287.0l3.3,6.3h-6.6zM457.9,288.5l3.3,6.3h-6.6zM461.0,289.3l3.3,6.3h-6.6zM452.6,291.6l3.3,6.3h-6.6zM469.4,293.8l3.3,6.3h-6.6zM477.0,285.5l3.3,6.3h-6.6zM477.7,303.8l3.3,6.3h-6.6zM499.1,290.8l3.3,6.3h-6.6zM425.2,293.1l3.3,6.3h-6.6zM429.0,287.0l3.3,6.3h-6.6zM437.3,284.7l3.3,6.3h-6.6zM425.9,283.9l3.3,6.3h-6.6zM440.4,280.9l3.3,6.3h-6.6zM441.9,276.3l3.3,6.3h-6.6zM435.1,274.8l3.3,6.3h-6.6zM432.8,279.4l3.3,6.3h-6.6zM416.8,293.1l3.3,6.3h-6.6zM413.7,300.7l3.3,6.3h-6.6zM409.1,297.7l3.3,6.3h-6.6zM403.0,301.5l3.3,6.3h-6.6zM404.6,289.3l3.3,6.3h-6.6zM413.7,289.3l3.3,6.3h-6.6zM419.8,282.4l3.3,6.3h-6.6zM506.2,236.9l3.3,6.3h-6.6zM472.1,237.9l3.3,6.3h-6.6zM457.4,274.5l3.3,6.3h-6.6zM440.7,255.0l3.3,6.3h-6.6zM421.4,260.2l3.3,6.3h-6.6zM442.4,267.4l3.3,6.3h-6.6zM421.0,271.7l3.3,6.3h-6.6zM406.2,279.4l3.3,6.3h-6.6zM429.6,256.0l3.3,6.3h-6.6zM414.9,250.6l3.3,6.3h-6.6zM400.9,266.5l3.3,6.3h-6.6zM444.2,249.4l3.3,6.3h-6.6zM428.7,269.5l3.3,6.3h-6.6zM401.3,274.4l3.3,6.3h-6.6zM397.1,281.0l3.3,6.3h-6.6zM435.9,248.3l3.3,6.3h-6.6zM447.0,262.4l3.3,6.3h-6.6zM411.2,263.3l3.3,6.3h-6.6zM427.2,250.5l3.3,6.3h-6.6zM412.1,274.0l3.3,6.3h-6.6zM416.4,268.6l3.3,6.3h-6.6zM422.1,254.5l3.3,6.3h-6.6zM436.9,263.3l3.3,6.3h-6.6zM406.5,270.3l3.3,6.3h-6.6zM408.3,250.2l3.3,6.3h-6.6zM403.5,259.2l3.3,6.3h-6.6zM420.9,247.9l3.3,6.3h-6.6zM408.7,285.7l3.3,6.3h-6.6zM425.5,272.9l3.3,6.3h-6.6zM417.5,279.0l3.3,6.3h-6.6zM413.5,283.9l3.3,6.3h-6.6zM394.8,259.8l3.3,6.3h-6.6zM411.6,279.3l3.3,6.3h-6.6zM424.7,247.8l3.3,6.3h-6.6zM435.3,269.4l3.3,6.3h-6.6zM434.7,253.6l3.3,6.3h-6.6zM401.7,280.9l3.3,6.3h-6.6zM440.8,270.7l3.3,6.3h-6.6zM406.8,256.9l3.3,6.3h-6.6zM412.0,268.9l3.3,6.3h-6.6zM398.3,285.8l3.3,6.3h-6.6zM440.5,286.9l3.3,6.3h-6.6zM417.2,260.2l3.3,6.3h-6.6zM415.6,263.7l3.3,6.3h-6.6zM398.5,262.6l3.3,6.3h-6.6zM427.3,262.8l3.3,6.3h-6.6zM419.0,252.8l3.3,6.3h-6.6zM394.7,248.1l3.3,6.3h-6.6zM443.2,262.1l3.3,6.3h-6.6zM438.9,268.8l3.3,6.3h-6.6zM394.2,268.8l3.3,6.3h-6.6zM446.9,258.3l3.3,6.3h-6.6zM398.6,249.2l3.3,6.3h-6.6zM398.9,254.9l3.3,6.3h-6.6zM398.1,269.6l3.3,6.3h-6.6zM406.9,264.1l3.3,6.3h-6.6zM436.5,257.2l3.3,6.3h-6.6zM445.9,281.2l3.3,6.3h-6.6zM413.1,256.8l3.3,6.3h-6.6zM432.4,283.8l3.3,6.3h-6.6zM416.2,254.8l3.3,6.3h-6.6zM397.4,275.8l3.3,6.3h-6.6zM425.6,256.8l3.3,6.3h-6.6zM423.7,268.2l3.3,6.3h-6.6zM420.6,277.2l3.3,6.3h-6.6zM432.1,275.2l3.3,6.3h-6.6zM444.4,251.9l3.3,6.3h-6.6zM407.7,274.4l3.3,6.3h-6.6zM395.3,284.7l3.3,6.3h-6.6zM446.5,268.2l3.3,6.3h-6.6zM400.0,257.2l3.3,6.3h-6.6zM414.3,272.0l3.3,6.3h-6.6zM396.9,265.1l3.3,6.3h-6.6zM420.7,285.0l3.3,6.3h-6.6zM437.9,278.0l3.3,6.3h-6.6zM403.2,256.2l3.3,6.3h-6.6zM435.8,280.5l3.3,6.3h-6.6zM417.7,274.2l3.3,6.3h-6.6zM432.2,286.2l3.3,6.3h-6.6zM429.4,259.9l3.3,6.3h-6.6zM439.6,248.4l3.3,6.3h-6.6zM420.4,266.5l3.3,6.3h-6.6zM429.8,251.9l3.3,6.3h-6.6zM418.2,250.3l3.3,6.3h-6.6zM428.9,283.4l3.3,6.3h-6.6zM403.3,277.2l3.3,6.3h-6.6zM428.7,277.9l3.3,6.3h-6.6zM447.9,252.1l3.3,6.3h-6.6zM433.9,267.2l3.3,6.3h-6.6zM400.1,260.3l3.3,6.3h-6.6zM445.3,278.0l3.3,6.3h-6.6zM408.5,260.8l3.3,6.3h-6.6zM423.7,264.2l3.3,6.3h-6.6zM425.2,261.0l3.3,6.3h-6.6zM438.0,252.7l3.3,6.3h-6.6zM444.1,271.2l3.3,6.3h-6.6zM404.6,286.3l3.3,6.3h-6.6zM423.4,280.1l3.3,6.3h-6.6zM438.9,272.1l3.3,6.3h-6.6zM408.7,279.5l3.3,6.3h-6.6zM404.6,267.5l3.3,6.3h-6.6zM412.7,247.9l3.3,6.3h-6.6zM447.2,274.0l3.3,6.3h-6.6zM454.3,250.1l3.3,6.3h-6.6zM463.6,276.5l3.3,6.3h-6.6zM458.9,260.0l3.3,6.3h-6.6zM460.9,254.2l3.3,6.3h-6.6zM453.0,267.7l3.3,6.3h-6.6zM462.7,247.6l3.3,6.3h-6.6zM460.6,270.8l3.3,6.3h-6.6zM453.7,261.5l3.3,6.3h-6.6zM448.9,248.1l3.3,6.3h-6.6zM452.3,279.2l3.3,6.3h-6.6zM463.4,269.5l3.3,6.3h-6.6zM454.4,282.3l3.3,6.3h-6.6zM460.7,278.8l3.3,6.3h-6.6zM453.8,257.5l3.3,6.3h-6.6zM384.2,248.7l3.3,6.3h-6.6zM376.2,281.7l3.3,6.3h-6.6zM377.2,275.9l3.3,6.3h-6.6zM383.9,256.5l3.3,6.3h-6.6zM390.6,272.7l3.3,6.3h-6.6zM385.8,282.4l3.3,6.3h-6.6zM390.2,265.9l3.3,6.3h-6.6zM378.5,271.6l3.3,6.3h-6.6zM378.3,246.8l3.3,6.3h-6.6zM376.5,255.7l3.3,6.3h-6.6zM384.0,252.7l3.3,6.3h-6.6zM382.7,282.0l3.3,6.3h-6.6zM381.5,268.5l3.3,6.3h-6.6zM389.4,255.6l3.3,6.3h-6.6z" fill="none" stroke="#7f9e48" stroke-width="1.05"/>
<rect x="222" y="553.5" width="41.5" height="28" rx="10" ry="9" fill="#5a82c0"/>
<path d="M151.6,560.1a4,4 0 1,0 8,0a4,4 0 1,0 -8,0M161.0,559.5a4,4 0 1,0 8,0a4,4 0 1,0 -8,0M163.4,560.1a4,4 0 1,0 8,0a4,4 0 1,0 -8,0M165.9,559.8a4,4 0 1,0 8,0a4,4 0 1,0 -8,0M168.3,559.5a4,4 0 1,0 8,0a4,4 0 1,0 -8,0M171.4,558.9a4,4 0 1,0 8,0a4,4 0 1,0 -8,0M173.8,564.4a4,4 0 1,0 8,0a4,4 0 1,0 -8,0M182.7,562.0a4,4 0 1,0 8,0a4,4 0 1,0 -8,0M191.9,559.8a4,4 0 1,0 8,0a4,4 0 1,0 -8,0M201.9,558.9a4,4 0 1,0 8,0a4,4 0 1,0 -8,0M199.4,566.8a4,4 0 1,0 8,0a4,4 0 1,0 -8,0M203.7,568.0a4,4 0 1,0 8,0a4,4 0 1,0 -8,0M206.7,567.4a4,4 0 1,0 8,0a4,4 0 1,0 -8,0M210.4,568.7a4,4 0 1,0 8,0a4,4 0 1,0 -8,0M212.8,563.2a4,4 0 1,0 8,0a4,4 0 1,0 -8,0M208.0,579.0a4,4 0 1,0 8,0a4,4 0 1,0 -8,0M204.9,584.5a4,4 0 1,0 8,0a4,4 0 1,0 -8,0M212.8,582.7a4,4 0 1,0 8,0a4,4 0 1,0 -8,0M231.0,544.6a4,4 0 1,0 8,0a4,4 0 1,0 -8,0M238.5,542.5a4,4 0 1,0 8,0a4,4 0 1,0 -8,0M245.4,545.3a4,4 0 1,0 8,0a4,4 0 1,0 -8,0M248.8,550.8a4,4 0 1,0 8,0a4,4 0 1,0 -8,0M230.3,548.7a4,4 0 1,0 8,0a4,4 0 1,0 -8,0M234.4,547.3a4,4 0 1,0 8,0a4,4 0 1,0 -8,0M241.3,548.7a4,4 0 1,0 8,0a4,4 0 1,0 -8,0M237.2,551.5a4,4 0 1,0 8,0a4,4 0 1,0 -8,0M244.0,552.8a4,4 0 1,0 8,0a4,4 0 1,0 -8,0M271.4,548.7a4,4 0 1,0 8,0a4,4 0 1,0 -8,0M268.7,554.2a4,4 0 1,0 8,0a4,4 0 1,0 -8,0M263.2,555.6a4,4 0 1,0 8,0a4,4 0 1,0 -8,0M270.8,561.1a4,4 0 1,0 8,0a4,4 0 1,0 -8,0M268.7,562.4a4,4 0 1,0 8,0a4,4 0 1,0 -8,0M202.2,559.0a4,4 0 1,0 8,0a4,4 0 1,0 -8,0M200.1,565.9a4,4 0 1,0 8,0a4,4 0 1,0 -8,0M205.6,567.2a4,4 0 1,0 8,0a4,4 0 1,0 -8,0M211.1,562.4a4,4 0 1,0 8,0a4,4 0 1,0 -8,0M213.8,567.9a4,4 0 1,0 8,0a4,4 0 1,0 -8,0M216.6,558.3a4,4 0 1,0 8,0a4,4 0 1,0 -8,0M219.3,555.6a4,4 0 1,0 8,0a4,4 0 1,0 -8,0M207.0,578.9a4,4 0 1,0 8,0a4,4 0 1,0 -8,0M204.9,584.4a4,4 0 1,0 8,0a4,4 0 1,0 -8,0M212.5,581.6a4,4 0 1,0 8,0a4,4 0 1,0 -8,0M217.9,581.6a4,4 0 1,0 8,0a4,4 0 1,0 -8,0M222.1,583.7a4,4 0 1,0 8,0a4,4 0 1,0 -8,0M227.6,587.8a4,4 0 1,0 8,0a4,4 0 1,0 -8,0M234.4,588.5a4,4 0 1,0 8,0a4,4 0 1,0 -8,0M241.3,592.6a4,4 0 1,0 8,0a4,4 0 1,0 -8,0M248.1,592.6a4,4 0 1,0 8,0a4,4 0 1,0 -8,0M239.9,588.5a4,4 0 1,0 8,0a4,4 0 1,0 -8,0M250.9,587.1a4,4 0 1,0 8,0a4,4 0 1,0 -8,0M256.4,585.8a4,4 0 1,0 8,0a4,4 0 1,0 -8,0M261.8,589.9a4,4 0 1,0 8,0a4,4 0 1,0 -8,0M264.6,577.5a4,4 0 1,0 8,0a4,4 0 1,0 -8,0M266.0,581.6a4,4 0 1,0 8,0a4,4 0 1,0 -8,0M255.0,580.3a4,4 0 1,0 8,0a4,4 0 1,0 -8,0M250.9,581.6a4,4 0 1,0 8,0a4,4 0 1,0 -8,0M255.0,603.6a4,4 0 1,0 8,0a4,4 0 1,0 -8,0M277.0,559.3a4,4 0 1,0 8,0a4,4 0 1,0 -8,0M290.4,565.4a4,4 0 1,0 8,0a4,4 0 1,0 -8,0M302.6,564.1a4,4 0 1,0 8,0a4,4 0 1,0 -8,0M311.1,560.5a4,4 0 1,0 8,0a4,4 0 1,0 -8,0M311.7,550.7a4,4 0 1,0 8,0a4,4 0 1,0 -8,0M302.6,570.2a4,4 0 1,0 8,0a4,4 0 1,0 -8,0M298.9,572.7a4,4 0 1,0 8,0a4,4 0 1,0 -8,0M308.7,569.0a4,4 0 1,0 8,0a4,4 0 1,0 -8,0M314.8,572.7a4,4 0 1,0 8,0a4,4 0 1,0 -8,0M267.2,576.3a4,4 0 1,0 8,0a4,4 0 1,0 -8,0M269.7,584.9a4,4 0 1,0 8,0a4,4 0 1,0 -8,0M302.6,583.7a4,4 0 1,0 8,0a4,4 0 1,0 -8,0M319.7,556.8a4,4 0 1,0 8,0a4,4 0 1,0 -8,0M324.5,561.7a4,4 0 1,0 8,0a4,4 0 1,0 -8,0M319.7,567.8a4,4 0 1,0 8,0a4,4 0 1,0 -8,0M330.6,548.3a4,4 0 1,0 8,0a4,4 0 1,0 -8,0M335.5,542.2a4,4 0 1,0 8,0a4,4 0 1,0 -8,0M336.7,541.0a4,4 0 1,0 8,0a4,4 0 1,0 -8,0M334.3,554.4a4,4 0 1,0 8,0a4,4 0 1,0 -8,0M339.2,552.0a4,4 0 1,0 8,0a4,4 0 1,0 -8,0M342.8,554.4a4,4 0 1,0 8,0a4,4 0 1,0 -8,0M331.9,560.5a4,4 0 1,0 8,0a4,4 0 1,0 -8,0M336.7,560.5a4,4 0 1,0 8,0a4,4 0 1,0 -8,0M341.6,560.5a4,4 0 1,0 8,0a4,4 0 1,0 -8,0M329.4,566.6a4,4 0 1,0 8,0a4,4 0 1,0 -8,0M334.3,566.6a4,4 0 1,0 8,0a4,4 0 1,0 -8,0M339.2,567.8a4,4 0 1,0 8,0a4,4 0 1,0 -8,0M344.0,566.6a4,4 0 1,0 8,0a4,4 0 1,0 -8,0M331.9,572.7a4,4 0 1,0 8,0a4,4 0 1,0 -8,0M336.7,572.7a4,4 0 1,0 8,0a4,4 0 1,0 -8,0M341.6,572.7a4,4 0 1,0 8,0a4,4 0 1,0 -8,0M324.5,571.5a4,4 0 1,0 8,0a4,4 0 1,0 -8,0M322.1,576.3a4,4 0 1,0 8,0a4,4 0 1,0 -8,0M329.4,578.8a4,4 0 1,0 8,0a4,4 0 1,0 -8,0M334.3,578.8a4,4 0 1,0 8,0a4,4 0 1,0 -8,0M339.2,578.8a4,4 0 1,0 8,0a4,4 0 1,0 -8,0M344.0,578.8a4,4 0 1,0 8,0a4,4 0 1,0 -8,0M345.8,554.4a4,4 0 1,0 8,0a4,4 0 1,0 -8,0M351.9,552.0a4,4 0 1,0 8,0a4,4 0 1,0 -8,0M353.1,555.6a4,4 0 1,0 8,0a4,4 0 1,0 -8,0M353.1,559.3a4,4 0 1,0 8,0a4,4 0 1,0 -8,0M361.0,558.0a4,4 0 1,0 8,0a4,4 0 1,0 -8,0M360.4,565.4a4,4 0 1,0 8,0a4,4 0 1,0 -8,0M349.4,562.9a4,4 0 1,0 8,0a4,4 0 1,0 -8,0M343.3,561.7a4,4 0 1,0 8,0a4,4 0 1,0 -8,0M339.7,558.0a4,4 0 1,0 8,0a4,4 0 1,0 -8,0M338.4,566.6a4,4 0 1,0 8,0a4,4 0 1,0 -8,0M343.3,569.0a4,4 0 1,0 8,0a4,4 0 1,0 -8,0M348.2,567.8a4,4 0 1,0 8,0a4,4 0 1,0 -8,0M340.9,572.7a4,4 0 1,0 8,0a4,4 0 1,0 -8,0M345.8,573.3a4,4 0 1,0 8,0a4,4 0 1,0 -8,0M353.1,572.7a4,4 0 1,0 8,0a4,4 0 1,0 -8,0M376.9,569.0a4,4 0 1,0 8,0a4,4 0 1,0 -8,0M364.0,572.7a4,4 0 1,0 8,0a4,4 0 1,0 -8,0M302.6,595.9a4,4 0 1,0 8,0a4,4 0 1,0 -8,0M306.2,594.6a4,4 0 1,0 8,0a4,4 0 1,0 -8,0M311.7,595.2a4,4 0 1,0 8,0a4,4 0 1,0 -8,0M298.9,592.2a4,4 0 1,0 8,0a4,4 0 1,0 -8,0M301.4,585.5a4,4 0 1,0 8,0a4,4 0 1,0 -8,0M343.3,577.3a4,4 0 1,0 8,0a4,4 0 1,0 -8,0M337.2,582.2a4,4 0 1,0 8,0a4,4 0 1,0 -8,0M360.4,602.9a4,4 0 1,0 8,0a4,4 0 1,0 -8,0M254.2,604.6a4,4 0 1,0 8,0a4,4 0 1,0 -8,0M239.5,575.2a4,4 0 1,0 8,0a4,4 0 1,0 -8,0M254.2,568.9a4,4 0 1,0 8,0a4,4 0 1,0 -8,0M229.3,579.2a4,4 0 1,0 8,0a4,4 0 1,0 -8,0M230.9,558.9a4,4 0 1,0 8,0a4,4 0 1,0 -8,0M231.8,565.8a4,4 0 1,0 8,0a4,4 0 1,0 -8,0M242.7,580.8a4,4 0 1,0 8,0a4,4 0 1,0 -8,0M238.8,569.8a4,4 0 1,0 8,0a4,4 0 1,0 -8,0M250.6,561.5a4,4 0 1,0 8,0a4,4 0 1,0 -8,0M215.3,551.1a4,4 0 1,0 8,0a4,4 0 1,0 -8,0M245.9,584.7a4,4 0 1,0 8,0a4,4 0 1,0 -8,0M234.4,574.6a4,4 0 1,0 8,0a4,4 0 1,0 -8,0M259.0,573.8a4,4 0 1,0 8,0a4,4 0 1,0 -8,0M220.7,572.6a4,4 0 1,0 8,0a4,4 0 1,0 -8,0M224.1,559.9a4,4 0 1,0 8,0a4,4 0 1,0 -8,0M261.0,563.9a4,4 0 1,0 8,0a4,4 0 1,0 -8,0M243.3,563.4a4,4 0 1,0 8,0a4,4 0 1,0 -8,0M254.6,549.6a4,4 0 1,0 8,0a4,4 0 1,0 -8,0M252.8,556.7a4,4 0 1,0 8,0a4,4 0 1,0 -8,0M248.7,572.0a4,4 0 1,0 8,0a4,4 0 1,0 -8,0M227.7,554.1a4,4 0 1,0 8,0a4,4 0 1,0 -8,0M224.7,578.7a4,4 0 1,0 8,0a4,4 0 1,0 -8,0M212.3,555.1a4,4 0 1,0 8,0a4,4 0 1,0 -8,0M230.3,583.6a4,4 0 1,0 8,0a4,4 0 1,0 -8,0M267.6,569.7a4,4 0 1,0 8,0a4,4 0 1,0 -8,0M238.7,562.3a4,4 0 1,0 8,0a4,4 0 1,0 -8,0M225.7,569.4a4,4 0 1,0 8,0a4,4 0 1,0 -8,0M253.5,575.0a4,4 0 1,0 8,0a4,4 0 1,0 -8,0M233.0,553.4a4,4 0 1,0 8,0a4,4 0 1,0 -8,0M258.9,552.6a4,4 0 1,0 8,0a4,4 0 1,0 -8,0M210.4,575.2a4,4 0 1,0 8,0a4,4 0 1,0 -8,0M235.2,580.7a4,4 0 1,0 8,0a4,4 0 1,0 -8,0M266.6,558.4a4,4 0 1,0 8,0a4,4 0 1,0 -8,0M244.0,576.1a4,4 0 1,0 8,0a4,4 0 1,0 -8,0M228.5,573.7a4,4 0 1,0 8,0a4,4 0 1,0 -8,0M223.6,563.8a4,4 0 1,0 8,0a4,4 0 1,0 -8,0M229.0,563.3a4,4 0 1,0 8,0a4,4 0 1,0 -8,0M244.0,559.3a4,4 0 1,0 8,0a4,4 0 1,0 -8,0M221.6,550.0a4,4 0 1,0 8,0a4,4 0 1,0 -8,0M224.0,547.8a4,4 0 1,0 8,0a4,4 0 1,0 -8,0M217.7,569.3a4,4 0 1,0 8,0a4,4 0 1,0 -8,0M215.5,575.8a4,4 0 1,0 8,0a4,4 0 1,0 -8,0M267.7,566.2a4,4 0 1,0 8,0a4,4 0 1,0 -8,0M260.8,584.0a4,4 0 1,0 8,0a4,4 0 1,0 -8,0M234.8,559.8a4,4 0 1,0 8,0a4,4 0 1,0 -8,0M231.5,571.3a4,4 0 1,0 8,0a4,4 0 1,0 -8,0M258.0,566.6a4,4 0 1,0 8,0a4,4 0 1,0 -8,0M244.6,555.8a4,4 0 1,0 8,0a4,4 0 1,0 -8,0M244.4,567.1a4,4 0 1,0 8,0a4,4 0 1,0 -8,0M220.1,560.1a4,4 0 1,0 8,0a4,4 0 1,0 -8,0M239.5,555.5a4,4 0 1,0 8,0a4,4 0 1,0 -8,0M221.1,567.1a4,4 0 1,0 8,0a4,4 0 1,0 -8,0M235.6,566.8a4,4 0 1,0 8,0a4,4 0 1,0 -8,0M220.7,578.9a4,4 0 1,0 8,0a4,4 0 1,0 -8,0M264.4,572.1a4,4 0 1,0 8,0a4,4 0 1,0 -8,0M231.4,576.9a4,4 0 1,0 8,0a4,4 0 1,0 -8,0M251.2,569.2a4,4 0 1,0 8,0a4,4 0 1,0 -8,0M242.7,586.2a4,4 0 1,0 8,0a4,4 0 1,0 -8,0M239.8,566.5a4,4 0 1,0 8,0a4,4 0 1,0 -8,0M323.1,557.7a4,4 0 1,0 8,0a4,4 0 1,0 -8,0M315.0,568.0a4,4 0 1,0 8,0a4,4 0 1,0 -8,0M318.4,576.1a4,4 0 1,0 8,0a4,4 0 1,0 -8,0M336.1,569.5a4,4 0 1,0 8,0a4,4 0 1,0 -8,0M317.0,564.0a4,4 0 1,0 8,0a4,4 0 1,0 -8,0M323.9,549.8a4,4 0 1,0 8,0a4,4 0 1,0 -8,0M341.5,549.5a4,4 0 1,0 8,0a4,4 0 1,0 -8,0M327.1,554.2a4,4 0 1,0 8,0a4,4 0 1,0 -8,0M326.5,568.3a4,4 0 1,0 8,0a4,4 0 1,0 -8,0M335.1,549.5a4,4 0 1,0 8,0a4,4 0 1,0 -8,0" fill="none" stroke="#5a82c0" stroke-width="1.05"/>
<path d="M280.9,556.2l3.3,6.3h-6.6zM285.7,555.5l3.3,6.3h-6.6zM282.3,563.0l3.3,6.3h-6.6zM279.6,575.4l3.3,6.3h-6.6zM287.8,571.3l3.3,6.3h-6.6zM289.5,568.0l3.3,6.3h-6.6zM288.3,571.6l3.3,6.3h-6.6zM281.0,573.5l3.3,6.3h-6.6zM294.4,572.8l3.3,6.3h-6.6zM298.0,573.5l3.3,6.3h-6.6zM290.1,577.7l3.3,6.3h-6.6zM293.2,580.2l3.3,6.3h-6.6zM307.8,572.8l3.3,6.3h-6.6zM313.9,571.6l3.3,6.3h-6.6zM318.8,575.3l3.3,6.3h-6.6zM324.9,572.8l3.3,6.3h-6.6zM328.5,550.9l3.3,6.3h-6.6zM327.3,554.5l3.3,6.3h-6.6zM326.1,561.9l3.3,6.3h-6.6zM323.7,576.5l3.3,6.3h-6.6zM331.0,577.7l3.3,6.3h-6.6zM335.9,577.7l3.3,6.3h-6.6zM340.7,578.9l3.3,6.3h-6.6zM345.6,577.7l3.3,6.3h-6.6zM349.3,580.2l3.3,6.3h-6.6zM310.2,575.3l3.3,6.3h-6.6zM392.4,557.6l3.3,6.3h-6.6zM385.1,563.7l3.3,6.3h-6.6zM385.7,566.7l3.3,6.3h-6.6zM377.2,570.4l3.3,6.3h-6.6zM377.8,572.8l3.3,6.3h-6.6zM364.4,569.2l3.3,6.3h-6.6zM354.0,568.0l3.3,6.3h-6.6zM354.0,572.8l3.3,6.3h-6.6zM362.0,572.8l3.3,6.3h-6.6zM370.5,572.8l3.3,6.3h-6.6zM365.6,576.5l3.3,6.3h-6.6zM371.7,577.7l3.3,6.3h-6.6zM379.0,580.2l3.3,6.3h-6.6zM385.7,577.7l3.3,6.3h-6.6zM393.7,582.0l3.3,6.3h-6.6zM396.7,582.6l3.3,6.3h-6.6zM359.5,580.2l3.3,6.3h-6.6zM347.3,577.7l3.3,6.3h-6.6zM352.2,580.2l3.3,6.3h-6.6zM343.7,580.2l3.3,6.3h-6.6zM294.4,592.4l3.3,6.3h-6.6zM298.0,600.9l3.3,6.3h-6.6zM306.6,589.9l3.3,6.3h-6.6zM325.5,591.7l3.3,6.3h-6.6zM348.0,594.8l3.3,6.3h-6.6zM347.3,588.5l3.3,6.3h-6.6zM352.2,590.9l3.3,6.3h-6.6zM347.3,598.2l3.3,6.3h-6.6zM352.2,598.2l3.3,6.3h-6.6zM357.1,593.3l3.3,6.3h-6.6zM362.0,589.7l3.3,6.3h-6.6zM366.8,592.1l3.3,6.3h-6.6zM371.7,593.3l3.3,6.3h-6.6zM376.6,590.9l3.3,6.3h-6.6zM380.2,589.7l3.3,6.3h-6.6zM383.9,593.9l3.3,6.3h-6.6zM376.6,598.2l3.3,6.3h-6.6zM381.5,599.4l3.3,6.3h-6.6zM384.5,604.3l3.3,6.3h-6.6zM393.7,594.5l3.3,6.3h-6.6zM397.9,593.9l3.3,6.3h-6.6zM396.1,583.0l3.3,6.3h-6.6zM385.7,578.7l3.3,6.3h-6.6zM379.0,579.9l3.3,6.3h-6.6zM374.1,579.9l3.3,6.3h-6.6zM369.3,578.7l3.3,6.3h-6.6zM364.4,579.9l3.3,6.3h-6.6zM359.5,581.1l3.3,6.3h-6.6zM354.6,581.1l3.3,6.3h-6.6zM349.8,578.7l3.3,6.3h-6.6zM343.7,578.7l3.3,6.3h-6.6zM362.0,571.4l3.3,6.3h-6.6zM368.0,571.4l3.3,6.3h-6.6zM377.8,571.4l3.3,6.3h-6.6zM355.9,573.8l3.3,6.3h-6.6zM370.5,575.0l3.3,6.3h-6.6zM386.3,567.1l3.3,6.3h-6.6zM352.2,584.8l3.3,6.3h-6.6zM364.4,586.0l3.3,6.3h-6.6zM371.7,586.0l3.3,6.3h-6.6zM358.3,598.2l3.3,6.3h-6.6zM365.6,595.8l3.3,6.3h-6.6zM463.0,543.0l3.3,6.3h-6.6zM424.6,580.8l3.3,6.3h-6.6zM467.3,570.4l3.3,6.3h-6.6zM461.2,572.2l3.3,6.3h-6.6zM467.9,575.3l3.3,6.3h-6.6zM447.8,576.5l3.3,6.3h-6.6zM451.5,577.7l3.3,6.3h-6.6zM456.3,577.7l3.3,6.3h-6.6zM461.2,577.7l3.3,6.3h-6.6zM453.9,582.0l3.3,6.3h-6.6zM458.8,582.6l3.3,6.3h-6.6zM463.7,582.6l3.3,6.3h-6.6zM480.1,583.8l3.3,6.3h-6.6zM440.5,585.0l3.3,6.3h-6.6zM421.8,587.8l3.3,6.3h-6.6zM431.6,592.1l3.3,6.3h-6.6zM438.3,588.5l3.3,6.3h-6.6zM438.9,594.5l3.3,6.3h-6.6zM431.0,600.0l3.3,6.3h-6.6zM438.3,600.0l3.3,6.3h-6.6zM479.8,584.8l3.3,6.3h-6.6zM482.2,591.5l3.3,6.3h-6.6zM474.3,598.8l3.3,6.3h-6.6zM482.2,604.9l3.3,6.3h-6.6zM468.2,575.6l3.3,6.3h-6.6zM458.1,597.9l3.3,6.3h-6.6zM457.9,588.2l3.3,6.3h-6.6zM449.7,599.4l3.3,6.3h-6.6zM471.0,592.8l3.3,6.3h-6.6zM443.2,598.0l3.3,6.3h-6.6zM470.6,585.3l3.3,6.3h-6.6zM465.5,600.3l3.3,6.3h-6.6zM446.6,586.4l3.3,6.3h-6.6zM456.7,593.1l3.3,6.3h-6.6zM465.5,589.9l3.3,6.3h-6.6zM446.8,591.6l3.3,6.3h-6.6zM448.2,583.1l3.3,6.3h-6.6zM469.2,581.1l3.3,6.3h-6.6zM464.9,595.1l3.3,6.3h-6.6zM443.6,580.7l3.3,6.3h-6.6zM451.1,592.2l3.3,6.3h-6.6zM466.6,580.0l3.3,6.3h-6.6zM444.1,576.9l3.3,6.3h-6.6zM469.3,597.3l3.3,6.3h-6.6zM453.8,576.2l3.3,6.3h-6.6zM449.5,588.9l3.3,6.3h-6.6zM462.1,593.2l3.3,6.3h-6.6zM463.8,585.9l3.3,6.3h-6.6zM453.7,596.3l3.3,6.3h-6.6zM463.1,599.4l3.3,6.3h-6.6zM459.3,590.7l3.3,6.3h-6.6zM453.3,599.4l3.3,6.3h-6.6zM459.2,574.2l3.3,6.3h-6.6zM467.6,583.9l3.3,6.3h-6.6zM467.8,592.7l3.3,6.3h-6.6zM448.3,595.7l3.3,6.3h-6.6zM452.5,585.2l3.3,6.3h-6.6zM451.3,574.1l3.3,6.3h-6.6zM464.9,597.7l3.3,6.3h-6.6zM454.9,590.0l3.3,6.3h-6.6zM449.6,579.9l3.3,6.3h-6.6zM452.3,587.9l3.3,6.3h-6.6zM468.5,588.2l3.3,6.3h-6.6zM460.7,600.0l3.3,6.3h-6.6zM461.8,589.7l3.3,6.3h-6.6zM454.7,586.8l3.3,6.3h-6.6zM465.5,577.3l3.3,6.3h-6.6zM444.6,592.6l3.3,6.3h-6.6zM465.3,583.8l3.3,6.3h-6.6zM443.4,573.9l3.3,6.3h-6.6zM331.6,572.6l3.3,6.3h-6.6zM312.1,579.8l3.3,6.3h-6.6zM316.8,572.3l3.3,6.3h-6.6zM327.9,579.3l3.3,6.3h-6.6zM314.6,577.6l3.3,6.3h-6.6zM365.9,599.6l3.3,6.3h-6.6zM357.8,589.0l3.3,6.3h-6.6zM345.1,592.4l3.3,6.3h-6.6zM354.1,600.9l3.3,6.3h-6.6zM345.5,601.5l3.3,6.3h-6.6zM360.9,587.4l3.3,6.3h-6.6zM344.2,589.1l3.3,6.3h-6.6z" fill="none" stroke="#7f9e48" stroke-width="1.05"/>
<path d="M272.9,581.9h7.8v7.8h-7.8zM277.0,590.1h7.8v7.8h-7.8zM283.9,591.5h7.8v7.8h-7.8zM283.9,581.9h7.8v7.8h-7.8zM283.8,555.4h7.8v7.8h-7.8zM288.7,581.6h7.8v7.8h-7.8zM298.4,580.4h7.8v7.8h-7.8zM311.8,582.2h7.8v7.8h-7.8zM318.5,581.6h7.8v7.8h-7.8zM288.7,597.4h7.8v7.8h-7.8zM288.7,604.1h7.8v7.8h-7.8zM307.0,606.6h7.8v7.8h-7.8zM284.4,615.7h7.8v7.8h-7.8zM283.8,632.8h7.8v7.8h-7.8zM325.9,629.8h7.8v7.8h-7.8zM335.0,634.0h7.8v7.8h-7.8zM344.1,628.5h7.8v7.8h-7.8zM323.4,588.3h7.8v7.8h-7.8zM356.8,601.5h7.8v7.8h-7.8zM373.3,606.3h7.8v7.8h-7.8zM344.6,625.9h7.8v7.8h-7.8zM364.8,623.4h7.8v7.8h-7.8zM384.9,625.9h7.8v7.8h-7.8zM414.8,613.7h7.8v7.8h-7.8zM414.8,623.4h7.8v7.8h-7.8zM456.3,596.6h7.8v7.8h-7.8zM458.2,598.4h7.8v7.8h-7.8zM427.1,602.7h7.8v7.8h-7.8zM429.5,607.6h7.8v7.8h-7.8zM422.2,607.6h7.8v7.8h-7.8zM439.3,611.2h7.8v7.8h-7.8zM441.7,605.1h7.8v7.8h-7.8zM419.1,614.3h7.8v7.8h-7.8zM427.1,617.3h7.8v7.8h-7.8zM435.6,619.8h7.8v7.8h-7.8zM441.7,617.3h7.8v7.8h-7.8zM458.2,608.8h7.8v7.8h-7.8zM458.8,611.2h7.8v7.8h-7.8zM458.2,617.3h7.8v7.8h-7.8zM471.0,613.1h7.8v7.8h-7.8zM477.1,613.1h7.8v7.8h-7.8zM484.4,614.9h7.8v7.8h-7.8zM489.3,607.6h7.8v7.8h-7.8zM489.3,611.2h7.8v7.8h-7.8zM485.6,619.8h7.8v7.8h-7.8zM469.8,622.2h7.8v7.8h-7.8zM458.8,623.4h7.8v7.8h-7.8zM426.3,608.8h7.8v7.8h-7.8zM440.0,609.8h7.8v7.8h-7.8zM440.0,617.1h7.8v7.8h-7.8zM425.4,619.8h7.8v7.8h-7.8zM419.9,624.4h7.8v7.8h-7.8zM426.3,628.1h7.8v7.8h-7.8zM431.8,629.0h7.8v7.8h-7.8zM437.3,629.9h7.8v7.8h-7.8zM437.3,634.5h7.8v7.8h-7.8zM441.8,623.5h7.8v7.8h-7.8zM443.7,640.9h7.8v7.8h-7.8zM438.2,648.2h7.8v7.8h-7.8zM440.9,651.8h7.8v7.8h-7.8zM453.7,647.3h7.8v7.8h-7.8zM451.0,656.4h7.8v7.8h-7.8zM467.4,657.3h7.8v7.8h-7.8zM456.5,669.8h7.8v7.8h-7.8zM459.2,624.4h7.8v7.8h-7.8zM465.6,625.3h7.8v7.8h-7.8zM472.9,626.2h7.8v7.8h-7.8zM482.1,629.9h7.8v7.8h-7.8zM473.8,637.2h7.8v7.8h-7.8zM487.6,623.5h7.8v7.8h-7.8zM489.4,609.8h7.8v7.8h-7.8zM499.4,616.2h7.8v7.8h-7.8zM501.3,623.5h7.8v7.8h-7.8zM495.8,644.5h7.8v7.8h-7.8zM514.1,644.5h7.8v7.8h-7.8zM530.2,627.4h7.8v7.8h-7.8zM535.6,635.7h7.8v7.8h-7.8zM486.8,615.9h7.8v7.8h-7.8zM487.5,621.3h7.8v7.8h-7.8zM255.2,605.3h7.8v7.8h-7.8zM333.9,643.7h7.8v7.8h-7.8zM356.8,637.3h7.8v7.8h-7.8zM353.1,654.1h7.8v7.8h-7.8zM322.6,670.2h7.8v7.8h-7.8zM365.0,652.9h7.8v7.8h-7.8zM380.8,629.8h7.8v7.8h-7.8zM388.1,629.3h7.8v7.8h-7.8zM371.6,645.4h7.8v7.8h-7.8zM369.8,651.8h7.8v7.8h-7.8zM371.6,654.5h7.8v7.8h-7.8z" fill="none" stroke="#de5862" stroke-width="1.05"/>
<path d="M277,160.6H405.9M342.4,135.9V184.6M277,159.1v3M405.9,159.1v3M340.79999999999995,135.9h3.2M340.79999999999995,184.6h3.2" stroke="#1c1c24" stroke-width="1.25" fill="none"/>
<circle cx="342.4" cy="160.6" r="3.7" fill="#1c1c24"/>
<path d="M312.3,205.4H414.5M363.4,190.3V219.6M312.3,203.9v3M414.5,203.9v3M361.79999999999995,190.3h3.2M361.79999999999995,219.6h3.2" stroke="#1c1c24" stroke-width="1.25" fill="none"/>
<rect x="359.79999999999995" y="201.8" width="7.2" height="7.2" fill="#1c1c24"/>
<path d="M397,266.4H459.2M428.2,249.2V283.2M397,264.9v3M459.2,264.9v3M426.59999999999997,249.2h3.2M426.59999999999997,283.2h3.2" stroke="#1c1c24" stroke-width="1.25" fill="none"/>
<path d="M428.2,261.9l4.2,7.5h-8.4z" fill="#1c1c24"/>
<path d="M222.4,568.3H307.3M264.6,557.3V578M222.4,566.8v3M307.3,566.8v3M263.0,557.3h3.2M263.0,578h3.2" stroke="#1c1c24" stroke-width="1.25" fill="none"/>
<circle cx="264.6" cy="568.3" r="3.7" fill="#1c1c24"/>
<path d="M330.5,588.5H449.3M390,578V598.3M330.5,587.0v3M449.3,587.0v3M388.4,578h3.2M388.4,598.3h3.2" stroke="#1c1c24" stroke-width="1.25" fill="none"/>
<path d="M390,584.0l4.2,7.5h-8.4z" fill="#1c1c24"/>
<path d="M336.9,625.2H483.3M411.2,603.6V647.1M336.9,623.7v3M483.3,623.7v3M409.59999999999997,603.6h3.2M409.59999999999997,647.1h3.2" stroke="#1c1c24" stroke-width="1.25" fill="none"/>
<rect x="407.59999999999997" y="621.6" width="7.2" height="7.2" fill="#1c1c24"/>
<path d="M99.0,41.75999999999999 V363.0 H625.5" fill="none" stroke="#2a2a2a" stroke-width="1.3"/>
<path d="M99.0,363.00 h8" stroke="#2a2a2a" stroke-width="1.3"/>
<text x="91.1" y="367.60" text-anchor="end" font-size="21.5" fill="#1a1a1a">0</text>
<path d="M99.0,309.46 h8" stroke="#2a2a2a" stroke-width="1.3"/>
<text x="91.1" y="317.16" text-anchor="end" font-size="21.5" fill="#1a1a1a">2</text>
<path d="M99.0,255.92 h8" stroke="#2a2a2a" stroke-width="1.3"/>
<text x="91.1" y="263.62" text-anchor="end" font-size="21.5" fill="#1a1a1a">4</text>
<path d="M99.0,202.38 h8" stroke="#2a2a2a" stroke-width="1.3"/>
<text x="91.1" y="209.28" text-anchor="end" font-size="21.5" fill="#1a1a1a">6</text>
<path d="M99.0,148.84 h8" stroke="#2a2a2a" stroke-width="1.3"/>
<text x="91.1" y="154.34" text-anchor="end" font-size="21.5" fill="#1a1a1a">8</text>
<path d="M99.0,95.30 h8" stroke="#2a2a2a" stroke-width="1.3"/>
<text x="91.1" y="99.70" text-anchor="end" font-size="21.5" fill="#1a1a1a">10</text>
<path d="M99.0,41.76 h8" stroke="#2a2a2a" stroke-width="1.3"/>
<text x="91.1" y="46.46" text-anchor="end" font-size="21.5" fill="#1a1a1a">12</text>
<path d="M99.00,363.0 v-8" stroke="#2a2a2a" stroke-width="1.3"/>
<text x="96.30" y="392.60" text-anchor="middle" font-size="21.5" fill="#1a1a1a">0</text>
<path d="M204.30,363.0 v-8" stroke="#2a2a2a" stroke-width="1.3"/>
<text x="202.60" y="392.60" text-anchor="middle" font-size="21.5" fill="#1a1a1a">0·2</text>
<path d="M309.60,363.0 v-8" stroke="#2a2a2a" stroke-width="1.3"/>
<text x="306.70" y="392.60" text-anchor="middle" font-size="21.5" fill="#1a1a1a">0·4</text>
<path d="M414.90,363.0 v-8" stroke="#2a2a2a" stroke-width="1.3"/>
<text x="413.00" y="392.60" text-anchor="middle" font-size="21.5" fill="#1a1a1a">0·6</text>
<path d="M520.20,363.0 v-8" stroke="#2a2a2a" stroke-width="1.3"/>
<text x="518.10" y="392.60" text-anchor="middle" font-size="21.5" fill="#1a1a1a">0·8</text>
<path d="M625.50,363.0 v-8" stroke="#2a2a2a" stroke-width="1.3"/>
<text x="625.80" y="392.60" text-anchor="middle" font-size="21.5" fill="#1a1a1a">1</text>
<path d="M97.6,451.14 V774.3 H625.6" fill="none" stroke="#2a2a2a" stroke-width="1.3"/>
<path d="M97.6,774.30 h8" stroke="#2a2a2a" stroke-width="1.3"/>
<text x="91.1" y="779.20" text-anchor="end" font-size="21.5" fill="#1a1a1a">0</text>
<path d="M97.6,720.44 h8" stroke="#2a2a2a" stroke-width="1.3"/>
<text x="91.1" y="729.54" text-anchor="end" font-size="21.5" fill="#1a1a1a">2</text>
<path d="M97.6,666.58 h8" stroke="#2a2a2a" stroke-width="1.3"/>
<text x="91.1" y="675.28" text-anchor="end" font-size="21.5" fill="#1a1a1a">4</text>
<path d="M97.6,612.72 h8" stroke="#2a2a2a" stroke-width="1.3"/>
<text x="91.1" y="621.32" text-anchor="end" font-size="21.5" fill="#1a1a1a">6</text>
<path d="M97.6,558.86 h8" stroke="#2a2a2a" stroke-width="1.3"/>
<text x="91.1" y="566.56" text-anchor="end" font-size="21.5" fill="#1a1a1a">8</text>
<path d="M97.6,505.00 h8" stroke="#2a2a2a" stroke-width="1.3"/>
<text x="91.1" y="511.80" text-anchor="end" font-size="21.5" fill="#1a1a1a">10</text>
<path d="M97.6,451.14 h8" stroke="#2a2a2a" stroke-width="1.3"/>
<text x="91.1" y="458.54" text-anchor="end" font-size="21.5" fill="#1a1a1a">12</text>
<path d="M97.60,774.3 v-8" stroke="#2a2a2a" stroke-width="1.3"/>
<text x="94.60" y="803.90" text-anchor="middle" font-size="21.5" fill="#1a1a1a">0·01</text>
<path d="M185.60,774.3 v-8" stroke="#2a2a2a" stroke-width="1.3"/>
<text x="185.80" y="803.90" text-anchor="middle" font-size="21.5" fill="#1a1a1a">0·1</text>
<path d="M273.60,774.3 v-8" stroke="#2a2a2a" stroke-width="1.3"/>
<text x="273.50" y="803.90" text-anchor="middle" font-size="21.5" fill="#1a1a1a">1</text>
<path d="M361.60,774.3 v-8" stroke="#2a2a2a" stroke-width="1.3"/>
<text x="362.40" y="803.90" text-anchor="middle" font-size="21.5" fill="#1a1a1a">10</text>
<path d="M449.60,774.3 v-8" stroke="#2a2a2a" stroke-width="1.3"/>
<text x="449.20" y="803.90" text-anchor="middle" font-size="21.5" fill="#1a1a1a">100</text>
<path d="M537.60,774.3 v-8" stroke="#2a2a2a" stroke-width="1.3"/>
<text x="539.50" y="803.90" text-anchor="middle" font-size="21.5" fill="#1a1a1a">1000</text>
<path d="M625.60,774.3 v-8" stroke="#2a2a2a" stroke-width="1.3"/>
<text x="621.40" y="803.90" text-anchor="middle" font-size="21.5" fill="#1a1a1a">10<tspan dx="1.3">000</tspan></text>
<text x="117" y="63.8" font-size="27" fill="#1a1a1a">A</text>
<text x="117" y="474" font-size="27" fill="#1a1a1a">B</text>
<text x="365.5" y="424" text-anchor="middle" font-size="22.4" fill="#1a1a1a">Mean E:S</text>
<text x="380" y="836" text-anchor="middle" font-size="22.4" fill="#1a1a1a">Mean seed mass (mg)</text>
<text transform="translate(18.8,203.4) rotate(-90)" text-anchor="middle" font-size="22.3" fill="#1a1a1a">Mean Ellenberg indicator</text>
<text transform="translate(45.7,203.4) rotate(-90)" text-anchor="middle" font-size="22.3" fill="#1a1a1a">value for moisture</text>
<text transform="translate(18.8,616.2) rotate(-90)" text-anchor="middle" font-size="22.3" fill="#1a1a1a">Mean Ellenberg indicator</text>
<text transform="translate(45.7,616.2) rotate(-90)" text-anchor="middle" font-size="22.3" fill="#1a1a1a">value for light</text>
<rect x="210.7" y="0.6" width="245" height="73.6" fill="#fff" stroke="#1a1a1a" stroke-width="1.3"/>
<circle cx="217.9" cy="8.2" r="3.8" fill="none" stroke="#5a82c0" stroke-width="1.05"/>
<path d="M217.9,27.6l3.2,5.8h-6.4z" fill="none" stroke="#7f9e48" stroke-width="1.05"/>
<rect x="214.4" y="49.7" width="7.6" height="7.6" fill="none" stroke="#de5862" stroke-width="1.05"/>
<text x="227.2" y="21.7" font-size="22" fill="#1a1a1a">Slacks</text>
<text x="227.2" y="43.2" font-size="22" fill="#1a1a1a">Calcareous grasslands</text>
<text x="227.2" y="63.8" font-size="22" fill="#1a1a1a">Temperate forests</text></svg>
</body></html>
